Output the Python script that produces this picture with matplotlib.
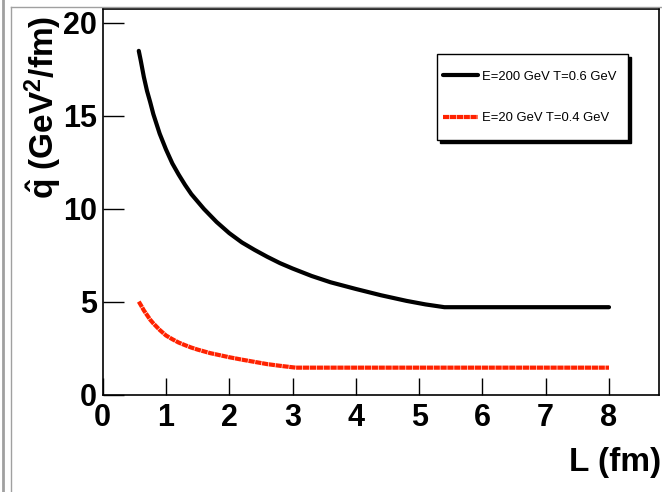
import matplotlib
matplotlib.use("Agg")
import matplotlib.pyplot as plt
from matplotlib.lines import Line2D
from matplotlib.patches import Rectangle

# Transport coefficient q-hat versus path length L
L_hi = [0.57, 0.6, 0.65, 0.7, 0.75, 0.8, 0.9, 1.0, 1.1, 1.2, 1.3, 1.4, 1.5,
        1.6, 1.8, 2.0, 2.2, 2.4, 2.6, 2.8, 3.0, 3.3, 3.6, 4.0, 4.4, 4.8, 5.1,
        5.4, 6.0, 7.0, 8.0]
q_hi = [18.5, 18.0, 17.1, 16.35, 15.75, 15.1, 14.05, 13.2, 12.45, 11.85,
        11.3, 10.8, 10.4, 10.0, 9.3, 8.7, 8.2, 7.8, 7.43, 7.09, 6.80, 6.40,
        6.06, 5.70, 5.36, 5.06, 4.87, 4.72, 4.72, 4.72, 4.72]

L_lo = [0.57, 0.6, 0.65, 0.7, 0.75, 0.8, 0.9, 1.0, 1.1, 1.2, 1.3, 1.4, 1.5,
        1.7, 2.0, 2.2, 2.4, 2.6, 2.8, 3.05, 4.0, 5.0, 6.0, 7.0, 8.0]
q_lo = [5.02, 4.85, 4.55, 4.3, 4.05, 3.85, 3.5, 3.2, 3.0, 2.82, 2.68, 2.55,
        2.44, 2.25, 2.03, 1.9, 1.78, 1.66, 1.57, 1.47, 1.47, 1.47, 1.47,
        1.47, 1.47]

label_hi = "E=200 GeV T=0.6 GeV"
label_lo = "E=20 GeV T=0.4 GeV"
x_ticks = [0, 1, 2, 3, 4, 5, 6, 7, 8]
y_ticks = [0, 5, 10, 15, 20]

plt.rcParams["font.family"] = ["Liberation Sans", "DejaVu Sans"]
plt.rcParams["mathtext.fontset"] = "custom"
plt.rcParams["mathtext.rm"] = "Liberation Sans:bold"
plt.rcParams["mathtext.bf"] = "Liberation Sans:bold"
plt.rcParams["mathtext.it"] = "Liberation Sans:bold"

W, H = 662, 492
fig = plt.figure(figsize=(W / 100, H / 100), dpi=100)
fig.patch.set_facecolor("white")

ax_l, ax_r, ax_t, ax_b = 102.7, 659.0, 9.0, 395.0
ax = fig.add_axes([ax_l / W, 1 - ax_b / H, (ax_r - ax_l) / W, (ax_b - ax_t) / H])

ax.plot(L_hi, q_hi, color="black", lw=3.0, solid_capstyle="round",
        solid_joinstyle="round", label=label_hi)
ax.plot(L_lo, q_lo, color="#ff2200", lw=3.0, linestyle=(0, (1.5, 0.15)),
        dash_capstyle="butt", label=label_lo)

ax.set_xlim(0, 8.79)
ax.set_ylim(0, 20.75)
ax.set_xticks(x_ticks)
ax.set_yticks(y_ticks)
ax.tick_params(axis="x", direction="in", length=12, width=1, labelsize=22, pad=6)
ax.tick_params(axis="y", direction="in", length=15, width=1, labelsize=22, pad=4)
for lab in ax.get_xticklabels() + ax.get_yticklabels():
    lab.set_fontweight("bold")
for s in ax.spines.values():
    s.set_linewidth(1.2)

# legend box with a solid drop shadow
bx0, bx1, by0, by1 = 437, 628, 54, 140
to_ax = lambda px, py: ((px - ax_l) / (ax_r - ax_l), (ax_b - py) / (ax_b - ax_t))
x0, y0 = to_ax(bx0, by1)
x1, y1 = to_ax(bx1, by0)
sx, sy = 3 / (ax_r - ax_l), 3 / (ax_b - ax_t)
ax.add_patch(Rectangle((x0 + sx, y0 - sy), x1 - x0, y1 - y0, transform=ax.transAxes,
                       facecolor="black", edgecolor="black", zorder=4))
ax.add_patch(Rectangle((x0, y0), x1 - x0, y1 - y0, transform=ax.transAxes,
                       facecolor="white", edgecolor="black", lw=1.0, zorder=5))
hx, hy = to_ax(443, 97.5)
leg = ax.legend(loc="center left", bbox_to_anchor=(hx, hy), frameon=False,
                borderpad=0, borderaxespad=0, handlelength=2.7,
                handletextpad=0.3, labelspacing=2.25, fontsize=9.4)
leg.set_zorder(6)

fig.text(43 / W, 1 - 107 / H, r"$\hat{q}$ (GeV$^{2}$/fm)", rotation=90,
         ha="center", va="center", fontsize=24, fontweight="bold")
fig.text(661 / W, 1 - 462 / H, "L (fm)", ha="right", va="center",
         fontsize=24, fontweight="bold")

# canvas border
fig.add_artist(Line2D([3 / W, 3 / W], [0, 1], color="#a0a0a0", lw=2.0))
fig.add_artist(Line2D([11 / W, 11 / W], [0, 1 - 6.5 / H], color="#a0a0a0", lw=1.0))
fig.add_artist(Line2D([11 / W, 1], [1 - 6.5 / H, 1 - 6.5 / H], color="#a0a0a0", lw=1.0))

fig.savefig("out.png", dpi=100)
